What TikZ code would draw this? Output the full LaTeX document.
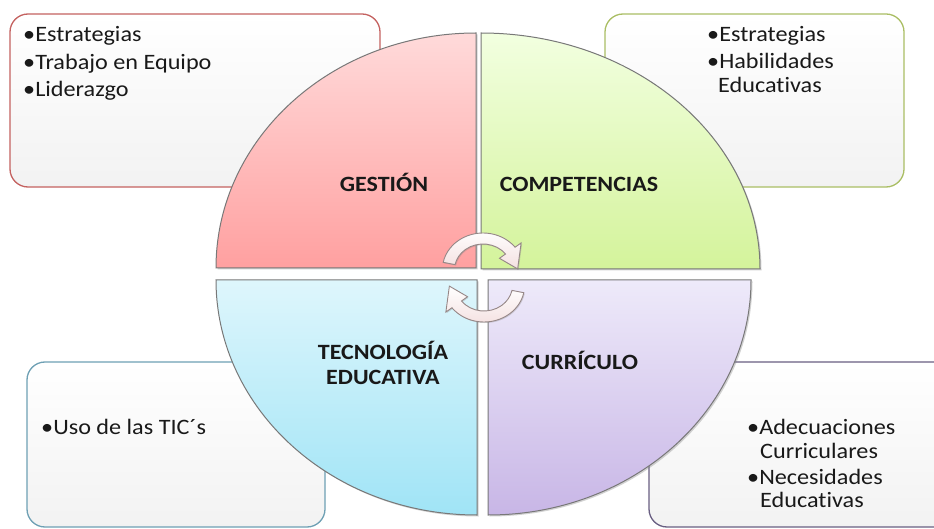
\documentclass[tikz,border=0pt]{standalone}
\usepackage{fontspec}
\setmainfont{Carlito}[FakeStretch=1.1, Ligatures={NoCommon}]
\usetikzlibrary{shadows}
\definecolor{tlb}{RGB}{196,98,96}
\definecolor{trb}{RGB}{170,190,100}
\definecolor{blb}{RGB}{110,160,180}
\definecolor{brb}{RGB}{105,95,130}
\definecolor{qedge}{RGB}{120,120,120}
\definecolor{tlt}{RGB}{255,218,218}
\definecolor{tlbo}{RGB}{255,160,160}
\definecolor{trt}{RGB}{242,255,224}
\definecolor{trbo}{RGB}{212,243,155}
\definecolor{blt}{RGB}{222,246,252}
\definecolor{blbo}{RGB}{160,228,246}
\definecolor{brt}{RGB}{238,234,250}
\definecolor{brbo}{RGB}{200,182,230}
\definecolor{arrf}{RGB}{244,224,224}
\definecolor{arre}{RGB}{150,135,135}
\definecolor{ink}{RGB}{25,25,25}
\tikzset{
  infobox/.style={draw, rounded corners=18pt, line width=1.3pt, top color=white, bottom color=black!5, inner sep=0pt},
  quad/.style={draw=qedge, line width=1pt, drop shadow={shadow xshift=1.5pt, shadow yshift=-1.5pt, opacity=0.35}},
  lbl/.style={font=\bfseries\fontsize{21.8}{24}\selectfont, anchor=base, inner sep=0pt, text=ink},
  item/.style={font=\fontsize{22}{24}\selectfont, anchor=base west, inner sep=0pt, text=ink},
  cyc/.style={draw=arre, line width=0.9pt, top color=white, bottom color=arrf, drop shadow={shadow xshift=1pt, shadow yshift=-1pt, opacity=0.3}}
}
\begin{document}
\begin{tikzpicture}[x=1pt,y=-1pt]
\clip (0,0) rectangle (934,529);
\fill[white] (0,0) rectangle (934,529);
% info boxes
\node[infobox, draw=tlb, minimum width=370pt, minimum height=173pt] (boxTL) at (195,100.5) {};
\node[infobox, draw=trb, minimum width=299pt, minimum height=173pt] (boxTR) at (754.5,100.5) {};
\node[infobox, draw=blb, minimum width=298pt, minimum height=165pt] (boxBL) at (176,444.5) {};
\node[infobox, draw=brb, minimum width=320pt, minimum height=165pt] (boxBR) at (809,444.5) {};
% quadrants
\draw[quad, top color=tlt, bottom color=tlbo] (476,268) -- (216,268) arc[start angle=180, end angle=90, x radius=260pt, y radius=235pt] -- cycle;
\draw[quad, top color=trt, bottom color=trbo] (481,269) -- (481,33) arc[start angle=90, end angle=0, x radius=279pt, y radius=236pt] -- cycle;
\draw[quad, top color=blt, bottom color=blbo] (477,280) -- (216,280) arc[start angle=180, end angle=270, x radius=261pt, y radius=235pt] -- cycle;
\draw[quad, top color=brt, bottom color=brbo] (488,280) -- (751,280) arc[start angle=0, end angle=-90, x radius=263pt, y radius=235pt] -- cycle;
% cycle arrows
\begin{scope}[shift={(483,270)}, xscale=1.1]
\draw[cyc] (168:37pt) arc[start angle=168, end angle=38, radius=37pt] -- (38:44pt) -- (2:31.5pt) -- (38:19pt) -- (38:26pt) arc[start angle=38, end angle=168, radius=26pt] -- cycle;
\end{scope}
\begin{scope}[shift={(484,285)}, xscale=1.1, rotate=180]
\draw[cyc] (168:37pt) arc[start angle=168, end angle=38, radius=37pt] -- (38:44pt) -- (2:31.5pt) -- (38:19pt) -- (38:26pt) arc[start angle=38, end angle=168, radius=26pt] -- cycle;
\end{scope}
% quadrant labels
\node[lbl] (gest) at (384,192) {GESTIÓN};
\node[lbl] (comp) at (579,192) {COMPETENCIAS};
\node[lbl] (tec1) at (383,359) {TECNOLOGÍA};
\node[lbl] (tec2) at (383,384) {EDUCATIVA};
\node[lbl] (curr) at (580,369) {CURRÍCULO};
% box items
\node[item] (tl1) at (23,42) {•Estrategias};
\node[item] (tl2) at (23,69.5) {•Trabajo en Equipo};
\node[item] (tl3) at (23,97) {•Liderazgo};
\node[item] (tr1) at (707,42) {•Estrategias};
\node[item] (tr2) at (707,69) {•Habilidades};
\node[item] (tr3) at (718,93) {Educativas};
\node[item] (bl1) at (41,434) {•Uso de las TIC´s};
\node[item] (br1) at (747,434) {•Adecuaciones};
\node[item] (br2) at (760,458) {Curriculares};
\node[item] (br3) at (747,484) {•Necesidades};
\node[item] (br4) at (760,507) {Educativas};
\end{tikzpicture}
\end{document}
